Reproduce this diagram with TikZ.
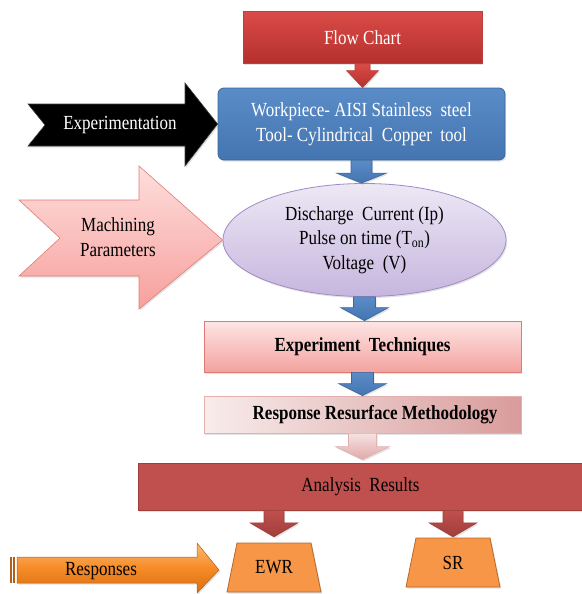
\documentclass[tikz,border=0pt]{standalone}
\usepackage{fontspec}
\setmainfont{Liberation Serif}[FakeStretch=0.85]
\usetikzlibrary{calc,shapes.geometric,shadows}
\definecolor{flowtop}{HTML}{DA4B47}
\definecolor{flowbot}{HTML}{B5302D}
\definecolor{flowedge}{HTML}{B8403D}
\definecolor{bluetop}{HTML}{5A8CC8}
\definecolor{bluebot}{HTML}{4475B0}
\definecolor{blueedge}{HTML}{3A679E}
\definecolor{paratop}{HTML}{EDE8F5}
\definecolor{parabot}{HTML}{C6B6DE}
\definecolor{paraedge}{HTML}{A08BC4}
\definecolor{machtop}{HTML}{FDDEDC}
\definecolor{machbot}{HTML}{F7A09D}
\definecolor{machedge}{HTML}{E27C78}
\definecolor{techtop}{HTML}{FDE6E5}
\definecolor{techbot}{HTML}{F3A29F}
\definecolor{techedge}{HTML}{DE7B77}
\definecolor{rsmleft}{HTML}{F8ECEC}
\definecolor{rsmright}{HTML}{D89C9B}
\definecolor{rsmedge}{HTML}{E2B0AF}
\definecolor{pinktop}{HTML}{F5E3E2}
\definecolor{pinkbot}{HTML}{DFA8A7}
\definecolor{anafill}{HTML}{C0504D}
\definecolor{anaedge}{HTML}{A03E3B}
\definecolor{outfill}{HTML}{F79646}
\definecolor{outedge}{HTML}{B5682E}
\definecolor{resptop}{HTML}{FBBB75}
\definecolor{respmid}{HTML}{F68B27}
\definecolor{respbot}{HTML}{D8700F}
\definecolor{respedge}{HTML}{B0601A}
\tikzset{
  txt/.style={font=\fontsize{20}{24.5}\selectfont, align=center, inner sep=0pt},
  boldtxt/.style={txt, font=\fontsize{20}{24.5}\selectfont\bfseries},
  shad/.style={drop shadow={opacity=0.22, shadow xshift=1.2pt, shadow yshift=-1.6pt}},
  outshape/.style={shad, draw=outedge, line width=0.8pt, fill=outfill},
  redarrow/.style={shad, draw=flowedge, line width=0.6pt, top color=flowtop, bottom color=flowbot},
  bluearrow/.style={shad, draw=blueedge, line width=0.6pt, top color=bluetop, bottom color=bluebot},
  pinkarrow/.style={shad, draw=rsmedge, line width=0.6pt, top color=pinktop, bottom color=pinkbot},
  darkarrow/.style={shad, draw=anaedge, line width=0.6pt, top color=anafill, bottom color=anaedge}
}
% block arrow: style, from, to, shaft half width, head half width, head length
\newcommand{\blockarrow}[6][]{%
  \path[#1] let \p1=(#2), \p2=(#3) in
    (\x1-#4pt,\y1) -- (\x1-#4pt,\y2+#6pt) -- (\x1-#5pt,\y2+#6pt) -- (\x1,\y2)
    -- (\x1+#5pt,\y2+#6pt) -- (\x1+#4pt,\y2+#6pt) -- (\x1+#4pt,\y1) -- cycle;}

\begin{document}
\begin{tikzpicture}[x=1pt,y=-1pt]
\useasboundingbox (0,0) rectangle (581,594);
% middle column
\node[txt, shad, draw=flowedge, line width=0.8pt, top color=flowtop, bottom color=flowbot,
      text=white, minimum width=239pt, minimum height=52pt] (flow) at (362.5,37.5) {Flow Chart};
\node[txt, shad, draw=blueedge, line width=0.8pt, top color=bluetop, bottom color=bluebot,
      rounded corners=6pt, text=white, minimum width=287pt, minimum height=72pt] (work) at (361.5,124)
      {Workpiece- AISI Stainless\ \ steel\\Tool- Cylindrical\ \ Copper\ \ tool};
\node[txt, shad, ellipse, draw=paraedge, line width=0.8pt, top color=paratop, bottom color=parabot,
      minimum width=283pt, minimum height=113pt] (para) at (364.5,240)
      {Discharge\ \ Current (Ip)\\Pulse on time (T\textsubscript{on})\\Voltage\ \ (V)};
\node[boldtxt, shad, draw=techedge, line width=0.8pt, top color=techtop, bottom color=techbot,
      minimum width=317pt, minimum height=51pt] (tech) at (362.5,346.5) {Experiment\ \ Techniques};
\node[boldtxt, shad, draw=rsmedge, line width=0.8pt, left color=rsmleft, right color=rsmright,
      minimum width=317pt, minimum height=37pt] (rsm) at (362.5,414.5)
      {\hspace*{25pt}Response Resurface Methodology};
\node[txt, shad, draw=anaedge, line width=0.8pt, fill=anafill,
      minimum width=445pt, minimum height=47pt] (ana) at (360.5,486.5) {Analysis\ \ Results};
\foreach \o/\t/\x/\y in {ewr/EWR/274/567.5, sr/SR/453/562.5}{
  \path[outshape] (\x-47,\y+24.5) -- (\x-37,\y-24.5) -- (\x+37,\y-24.5) -- (\x+47,\y+24.5) -- cycle;
  \node[txt, minimum width=94pt, minimum height=49pt] (\o) at (\x,\y) {\t};
}

% arrows between boxes
\blockarrow[redarrow]{flow.south}{work.north}{7.5}{16}{17}
\blockarrow[bluearrow]{work.south}{para.north}{10.5}{25}{10}
\blockarrow[bluearrow]{para.south}{tech.north}{11}{24}{13}
\blockarrow[bluearrow]{tech.south}{rsm.north}{11}{24}{12}
\blockarrow[pinkarrow]{rsm.south}{$(ana.north)+(0,-3)$}{14}{27}{13}
\foreach \o/\g in {ewr/6, sr/1}{
  \blockarrow[darkarrow]{ana.south -| \o.north}{$(\o.north)+(0,-\g)$}{10}{24}{14}
}

% side arrows
\path[shad, fill=black, draw=black!75, line width=0.6pt]
  (28,104) -- (185,104) -- (185,83) -- (work.west) -- (185,166) -- (185,146) -- (28,146) -- (45,125) -- cycle;
\node[txt, text=white] (expt) at (120,125) {Experimentation};

\path[shad, draw=machedge, line width=0.6pt, top color=machtop, bottom color=machbot]
  (19,200) -- (139,200) -- (139,166) -- (para.west) -- (139,309) -- (139,276) -- (19,276) -- (60,238) -- cycle;
\node[txt] (mach) at (118,237) {Machining\\Parameters};

\path[shad, draw=respedge, line width=0.5pt, top color=resptop, bottom color=respbot, middle color=respmid]
  (17,557) -- (197,557) -- (197,543) -- (219,570) -- (197,593) -- (197,583) -- (17,583) -- cycle;
\foreach \x in {10,13.2}{
  \fill[respedge] (\x,557) rectangle ++(1.8,26);
}
\node[txt] (resp) at (101,571) {Responses};
\end{tikzpicture}
\end{document}
